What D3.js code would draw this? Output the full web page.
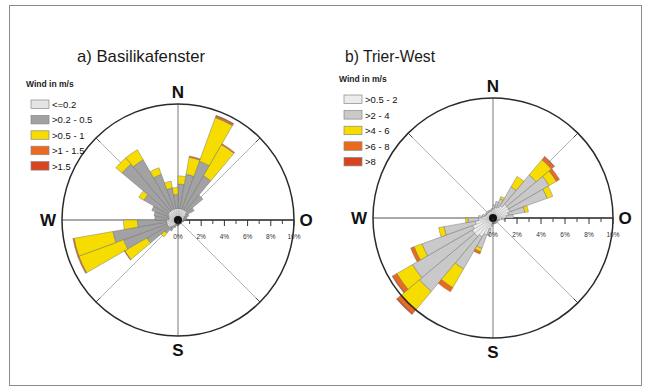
<!DOCTYPE html>
<html><head><meta charset="utf-8">
<script src="https://cdn.jsdelivr.net/npm/d3@7/dist/d3.min.js"></script>
<style>
body{margin:0;background:#fff}
svg{display:block}
text{font-family:"Liberation Sans",Arial,Helvetica,sans-serif}
</style>
</head><body>
<svg id="chart" width="651" height="392"></svg>
<script>
// ---------- data ----------
const directions = [5,15,25,35,45,55,65,75,85,95,105,115,125,135,145,155,165,175,185,195,205,215,225,235,245,255,265,275,285,295,305,315,325,335,345,355];

// a) Basilikafenster — frequency (%) per speed class and direction
const aTitle = "a) Basilikafenster";
const aClasses = ["<=0.2", ">0.2 - 0.5", ">0.5 - 1", ">1 - 1.5", ">1.5"];
const aCalm   = [1.0,1.0,1.0,1.0,1.0,0.8,0.6,0.5,0.5,0.4,0.4,0.3,0.3,0.3,0.3,0.3,0.3,0.3,0.3,0.3,0.4,0.6,0.8,1.0,1.0,1.0,1.0,0.8,0.8,0.9,1.0,1.0,1.0,1.0,1.0,1.0];
const aLow    = [2.1,3.0,4.4,3.4,1.8,0.8,0.4,0.3,0.2,0.1,0.1,0.1,0.1,0.1,0.1,0.1,0.1,0.1,0.1,0.2,0.3,0.5,0.7,2.1,4.0,4.7,2.5,1.2,1.3,1.5,2.4,5.3,5.0,3.2,1.8,1.2];
const aMid    = [0.7,1.5,4.0,3.1,0,0,0,0,0,0,0,0,0,0,0,0,0,0,0,0,0,0,0.4,2.2,4.1,3.4,1.2,0,0,0,0.5,0.7,1.0,0.6,0.6,0.6];
const aHigh   = [0,0.1,0.15,0.1,0,0,0,0,0,0,0,0,0,0,0,0,0,0,0,0,0,0,0,0.05,0.1,0.1,0,0,0,0,0,0,0,0,0,0];
const aTop    = [0,0,0.05,0,0,0,0,0,0,0,0,0,0,0,0,0,0,0,0,0,0,0,0,0,0,0,0,0,0,0,0,0,0,0,0,0];

// b) Trier-West
const bTitle = "b) Trier-West";
const bClasses = [">0.5 - 2", ">2 - 4", ">4 - 6", ">6 - 8", ">8"];
const bCalm   = [0.8,0.9,1.0,1.2,1.5,1.5,1.5,1.3,1.1,0.7,0.5,0.4,0.4,0.4,0.4,0.4,0.4,0.4,0.5,0.9,1.5,1.8,2.0,2.0,1.8,1.5,1.2,0.9,0.7,0.6,0.6,0.6,0.6,0.6,0.6,0.7];
const bLow    = [0.3,0.5,0.7,1.8,3.2,3.9,3.3,1.4,0.6,0.3,0.1,0.1,0.1,0.1,0.1,0.1,0.1,0.1,0.2,0.6,1.2,3.1,6.0,5.75,4.5,2.65,0.9,0.3,0.2,0.1,0.1,0.1,0.1,0.1,0.1,0.1];
const bMid    = [0,0,0.2,1.0,1.65,0.7,0.5,0.3,0,0,0,0,0,0,0,0,0,0,0,0,0.3,1.8,2.0,1.5,0.7,0.45,0.2,0,0,0,0,0,0,0,0,0];
const bHigh   = [0,0,0,0,0.3,0.3,0,0,0,0,0,0,0,0,0,0,0,0,0,0,0.2,0.4,0.4,0.4,0.3,0,0,0,0,0,0,0,0,0,0,0];
const bTop    = [0,0,0,0,0.05,0,0,0,0,0,0,0,0,0,0,0,0,0,0,0,0,0,0.1,0.05,0,0,0,0,0,0,0,0,0,0,0,0];

const percentTicks = [0,2,4,6,8,10];
const minorTicks = [1,3,5,7,9];
const compass = [{t:"N",a:0},{t:"O",a:90},{t:"S",a:180},{t:"W",a:270}];
const legendTitle = "Wind in m/s";

// ---------- styles ----------
const aColors = ["#e4e4e4","#a2a2a2","#f7dc00","#ec6a1e","#d94420"];
const bColors = ["#ececec","#c9c9c9","#f7dc00","#ec6a1e","#d94420"];

const svg = d3.select("#chart");
svg.append("rect").attr("x",9.5).attr("y",5.5).attr("width",632).attr("height",380)
  .attr("fill","#fff").attr("stroke","#8a8a8a").attr("stroke-width",1);

function panel(opt){
  const {cx, cy, R, title, titleX, titleLen, classes, series, colors, legX, legY, legStep} = opt;
  const keys = classes;
  const rows = directions.map((d,i)=>{
    const o = {dir:d};
    keys.forEach((k,j)=>o[k]=series[j][i]);
    return o;
  });
  const stacked = d3.stack().keys(keys)(rows);
  const r = d3.scaleLinear().domain([0,10]).range([0,R]);
  const rad = d => d*Math.PI/180;
  const half = 5;

  svg.append("text").attr("x",titleX).attr("y",62).attr("font-size",17)
    .attr("textLength",titleLen).attr("lengthAdjust","spacingAndGlyphs")
    .attr("fill","#1a1a1a").text(title);

  const g = svg.append("g").attr("transform",`translate(${cx},${cy})`);

  [45,135,225,315].forEach(a=>{
    const x = Math.sin(rad(a)), y = -Math.cos(rad(a));
    g.append("line").attr("x1",0).attr("y1",0).attr("x2",x*r(10)).attr("y2",y*r(10))
      .attr("stroke","#a8a8a8").attr("stroke-width",0.9);
    g.append("line").attr("x1",x*(r(10)-6)).attr("y1",y*(r(10)-6)).attr("x2",x*r(10)).attr("y2",y*r(10))
      .attr("stroke","#444").attr("stroke-width",1);
  });
  g.append("line").attr("x1",0).attr("y1",-r(10)).attr("x2",0).attr("y2",r(10))
    .attr("stroke","#7a7a7a").attr("stroke-width",1);
  g.append("line").attr("x1",-r(10)).attr("y1",0).attr("x2",0).attr("y2",0)
    .attr("stroke","#555").attr("stroke-width",1.1);
  g.append("line").attr("x1",0).attr("y1",0).attr("x2",r(10)).attr("y2",0)
    .attr("stroke","#222").attr("stroke-width",1.6);

  const arc = d3.arc();
  stacked.forEach((layer,li)=>{
    g.append("g").selectAll("path").data(layer.filter(d=>d[1]-d[0]>0)).join("path")
      .attr("d",d=>arc({innerRadius:r(d[0]),outerRadius:r(d[1]),
        startAngle:rad(d.data.dir-half),endAngle:rad(d.data.dir+half)}))
      .attr("fill",colors[li])
      .attr("stroke", li===0 ? "#9a9a9a" : "#6e6e6e")
      .attr("stroke-width", li===0 ? 0.35 : 0.45);
  });
  g.append("circle").attr("r",4).attr("fill","#111");

  g.append("circle").attr("r",r(10)).attr("fill","none").attr("stroke","#2a2a2a").attr("stroke-width",1.5);

  g.selectAll(".maj").data(percentTicks).join("line")
    .attr("x1",d=>r(d)).attr("x2",d=>r(d)).attr("y1",0).attr("y2",6)
    .attr("stroke","#333").attr("stroke-width",1);
  g.selectAll(".min").data(minorTicks).join("line")
    .attr("x1",d=>r(d)).attr("x2",d=>r(d)).attr("y1",0).attr("y2",4)
    .attr("stroke","#333").attr("stroke-width",0.9);
  g.selectAll(".tl").data(percentTicks).join("text")
    .attr("x",d=>r(d)).attr("y",18.5).attr("text-anchor","middle")
    .attr("font-size",6.5).attr("fill","#333").text(d=>d+"%");

  g.selectAll(".cl").data(compass).join("text")
    .attr("x",d=>Math.sin(rad(d.a))*(R+ (d.a===90?12:d.a===270?14:12)))
    .attr("y",d=>-Math.cos(rad(d.a))*(R+ (d.a===0?12:d.a===180?14:0)))
    .attr("text-anchor","middle").attr("dominant-baseline","central")
    .attr("font-size",17).attr("font-weight","bold").attr("fill","#111")
    .text(d=>d.t);

  svg.append("text").attr("x",legX-5).attr("y",legY-13).attr("font-size",8.5)
    .attr("font-weight","bold").attr("fill","#222").text(legendTitle);
  const lg = svg.append("g");
  classes.forEach((c,i)=>{
    lg.append("rect").attr("x",legX).attr("y",legY+i*legStep).attr("width",18).attr("height",8.5)
      .attr("fill",colors[i]).attr("stroke","#888").attr("stroke-width",0.7);
    lg.append("text").attr("x",legX+21).attr("y",legY+i*legStep+8).attr("font-size",9.5)
      .attr("fill","#111").text(c);
  });
}

panel({cx:178, cy:220, R:116, title:aTitle, titleX:77, titleLen:128,
  classes:aClasses, series:[aCalm,aLow,aMid,aHigh,aTop], colors:aColors,
  legX:31, legY:100, legStep:15.4});
panel({cx:493, cy:218, R:120, title:bTitle, titleX:345, titleLen:90,
  classes:bClasses, series:[bCalm,bLow,bMid,bHigh,bTop], colors:bColors,
  legX:344, legY:95, legStep:15.6});
</script>
</body></html>
